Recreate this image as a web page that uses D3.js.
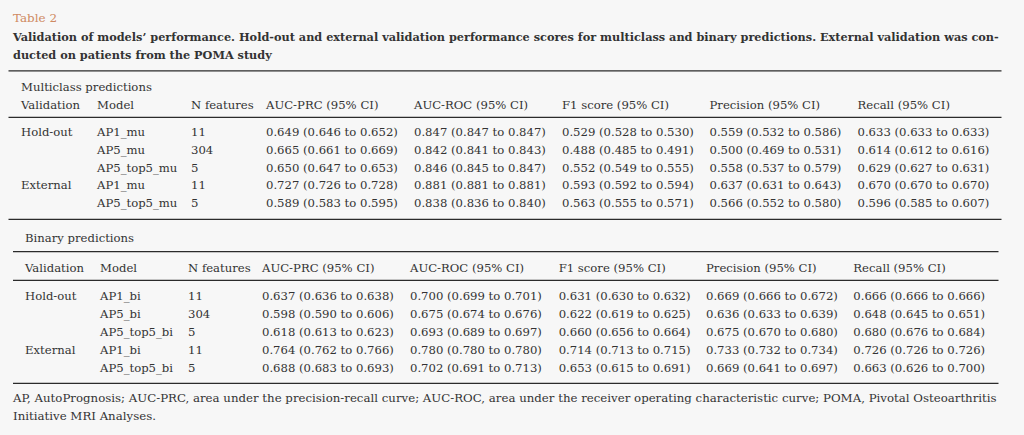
<html>
<head>
<meta charset="utf-8"/>
<script src="https://d3js.org/d3.v7.min.js"></script>
<style>
  body { margin: 0; background: #f7f7f7; }
  svg { display: block; }
</style>
</head>
<body>
<div id="v"></div>
<script type="text/javascript">
// table content
var columns = ["Validation", "Model", "N features", "AUC-PRC (95% CI)", "AUC-ROC (95% CI)", "F1 score (95% CI)", "Precision (95% CI)", "Recall (95% CI)"];

var mcValidation = ["Hold-out", "", "", "External", ""];
var mcModel = ["AP1_mu", "AP5_mu", "AP5_top5_mu", "AP1_mu", "AP5_top5_mu"];
var mcFeatures = [11, 304, 5, 11, 5];
var mcAucPrc = [[0.649, 0.646, 0.652], [0.665, 0.661, 0.669], [0.650, 0.647, 0.653], [0.727, 0.726, 0.728], [0.589, 0.583, 0.595]];
var mcAucRoc = [[0.847, 0.847, 0.847], [0.842, 0.841, 0.843], [0.846, 0.845, 0.847], [0.881, 0.881, 0.881], [0.838, 0.836, 0.840]];
var mcF1 = [[0.529, 0.528, 0.530], [0.488, 0.485, 0.491], [0.552, 0.549, 0.555], [0.593, 0.592, 0.594], [0.563, 0.555, 0.571]];
var mcPrecision = [[0.559, 0.532, 0.586], [0.500, 0.469, 0.531], [0.558, 0.537, 0.579], [0.637, 0.631, 0.643], [0.566, 0.552, 0.580]];
var mcRecall = [[0.633, 0.633, 0.633], [0.614, 0.612, 0.616], [0.629, 0.627, 0.631], [0.670, 0.670, 0.670], [0.596, 0.585, 0.607]];

var biValidation = ["Hold-out", "", "", "External", ""];
var biModel = ["AP1_bi", "AP5_bi", "AP5_top5_bi", "AP1_bi", "AP5_top5_bi"];
var biFeatures = [11, 304, 5, 11, 5];
var biAucPrc = [[0.637, 0.636, 0.638], [0.598, 0.590, 0.606], [0.618, 0.613, 0.623], [0.764, 0.762, 0.766], [0.688, 0.683, 0.693]];
var biAucRoc = [[0.700, 0.699, 0.701], [0.675, 0.674, 0.676], [0.693, 0.689, 0.697], [0.780, 0.780, 0.780], [0.702, 0.691, 0.713]];
var biF1 = [[0.631, 0.630, 0.632], [0.622, 0.619, 0.625], [0.660, 0.656, 0.664], [0.714, 0.713, 0.715], [0.653, 0.615, 0.691]];
var biPrecision = [[0.669, 0.666, 0.672], [0.636, 0.633, 0.639], [0.675, 0.670, 0.680], [0.733, 0.732, 0.734], [0.669, 0.641, 0.697]];
var biRecall = [[0.666, 0.666, 0.666], [0.648, 0.645, 0.651], [0.680, 0.676, 0.684], [0.726, 0.726, 0.726], [0.663, 0.626, 0.700]];

var tableLabel = "Table 2";
var titleLines = ["Validation of models\u2019 performance. Hold-out and external validation performance scores for multiclass and binary predictions. External validation was con-",
                  "ducted on patients from the POMA study"];
var footLines = ["AP, AutoPrognosis; AUC-PRC, area under the precision-recall curve; AUC-ROC, area under the receiver operating characteristic curve; POMA, Pivotal Osteoarthritis",
                 "Initiative MRI Analyses."];

(function() {
  var width = 1024, height = 435;
  var font = "'DejaVu Serif', 'Liberation Serif', serif";
  var ink = "#333";
  var fmt = d3.format(".3f");
  var ci = function(v) { return fmt(v[0]) + " (" + fmt(v[1]) + " to " + fmt(v[2]) + ")"; };

  var svg = d3.select("#v").append("svg")
    .attr("width", width)
    .attr("height", height);

  // pick a font size so a sample string spans the wanted width
  function fit(str, weight, target) {
    var t = svg.append("text").attr("font-family", font).attr("font-weight", weight)
      .attr("font-size", 20).text(str);
    var w = t.node().getComputedTextLength();
    t.remove();
    return 20 * target / w;
  }
  var bodySize = fit("0.649 (0.646 to 0.652)", "normal", 132);
  var titleSize = fit(titleLines[0], "bold", 987);
  var footSize = fit(footLines[0], "normal", 984);
  var labelSize = fit(tableLabel, "normal", 44);

  svg.append("text")
    .attr("x", 13).attr("y", 22)
    .attr("font-family", font).attr("font-size", labelSize)
    .attr("fill", "#cf8a62")
    .text(tableLabel);

  svg.selectAll(".title").data(titleLines).enter()
    .append("text").attr("class", "title")
    .attr("x", 13)
    .attr("y", function(d, i) { return 40.7 + i * 18; })
    .attr("font-family", font).attr("font-size", titleSize).attr("font-weight", "bold")
    .attr("fill", ink)
    .text(function(d) { return d; });

  function rule(x1, x2, y) {
    svg.append("line").attr("x1", x1).attr("x2", x2).attr("y1", y).attr("y2", y)
      .attr("stroke", "#2b2b2b").attr("stroke-width", 1.2);
  }

  function drawBlock(o) {
    var x = d3.scaleOrdinal().domain(columns).range(o.colX);
    var y = d3.scaleLinear().domain([0, o.model.length - 1]).range(o.rowY);

    svg.append("text")
      .attr("x", o.captionX).attr("y", o.captionY)
      .attr("font-family", font).attr("font-size", bodySize).attr("fill", ink)
      .text(o.caption);

    svg.selectAll(".h" + o.key).data(columns).enter()
      .append("text").attr("class", "h" + o.key)
      .attr("x", function(d) { return x(d); })
      .attr("y", o.headerY)
      .attr("font-family", font).attr("font-size", bodySize).attr("fill", ink)
      .text(function(d) { return d; });

    var rows = o.model.map(function(m, i) {
      return [o.validation[i], m, String(o.features[i]),
              ci(o.prc[i]), ci(o.roc[i]), ci(o.f1[i]), ci(o.prec[i]), ci(o.rec[i])];
    });

    svg.selectAll(".r" + o.key).data(rows).enter()
      .append("g").attr("class", "r" + o.key)
      .attr("transform", function(d, i) { return "translate(0," + y(i) + ")"; })
      .selectAll("text")
      .data(function(d) { return d; }).enter()
      .append("text")
      .attr("x", function(d, i) { return x(columns[i]); })
      .attr("font-family", font).attr("font-size", bodySize).attr("fill", ink)
      .text(function(d) { return d; });

    o.rules.forEach(function(r) { rule(r[0], r[1], r[2]); });
  }

  drawBlock({
    key: "mc", caption: "Multiclass predictions", captionX: 21, captionY: 90.7, headerY: 109,
    colX: [21, 97, 191, 266, 414, 562, 709.5, 857.5],
    rowY: [135.7, 207.3],
    validation: mcValidation, model: mcModel, features: mcFeatures,
    prc: mcAucPrc, roc: mcAucRoc, f1: mcF1, prec: mcPrecision, rec: mcRecall,
    rules: [[8.5, 1001.5, 70.8], [8.5, 1001.5, 117.3], [8.5, 1001.5, 219.3]]
  });

  drawBlock({
    key: "bi", caption: "Binary predictions", captionX: 25, captionY: 242.3, headerY: 271.7,
    colX: [25, 100, 188, 262, 410, 558.7, 706, 853.3],
    rowY: [300, 372],
    validation: biValidation, model: biModel, features: biFeatures,
    prc: biAucPrc, roc: biAucRoc, f1: biF1, prec: biPrecision, rec: biRecall,
    rules: [[13, 998.5, 251.7], [13, 998.5, 280.3], [13, 998.5, 383.3]]
  });

  svg.selectAll(".foot").data(footLines).enter()
    .append("text").attr("class", "foot")
    .attr("x", 13)
    .attr("y", function(d, i) { return 401.7 + i * 18.3; })
    .attr("font-family", font).attr("font-size", footSize).attr("fill", ink)
    .text(function(d) { return d; });
})();
</script>
</body>
</html>
